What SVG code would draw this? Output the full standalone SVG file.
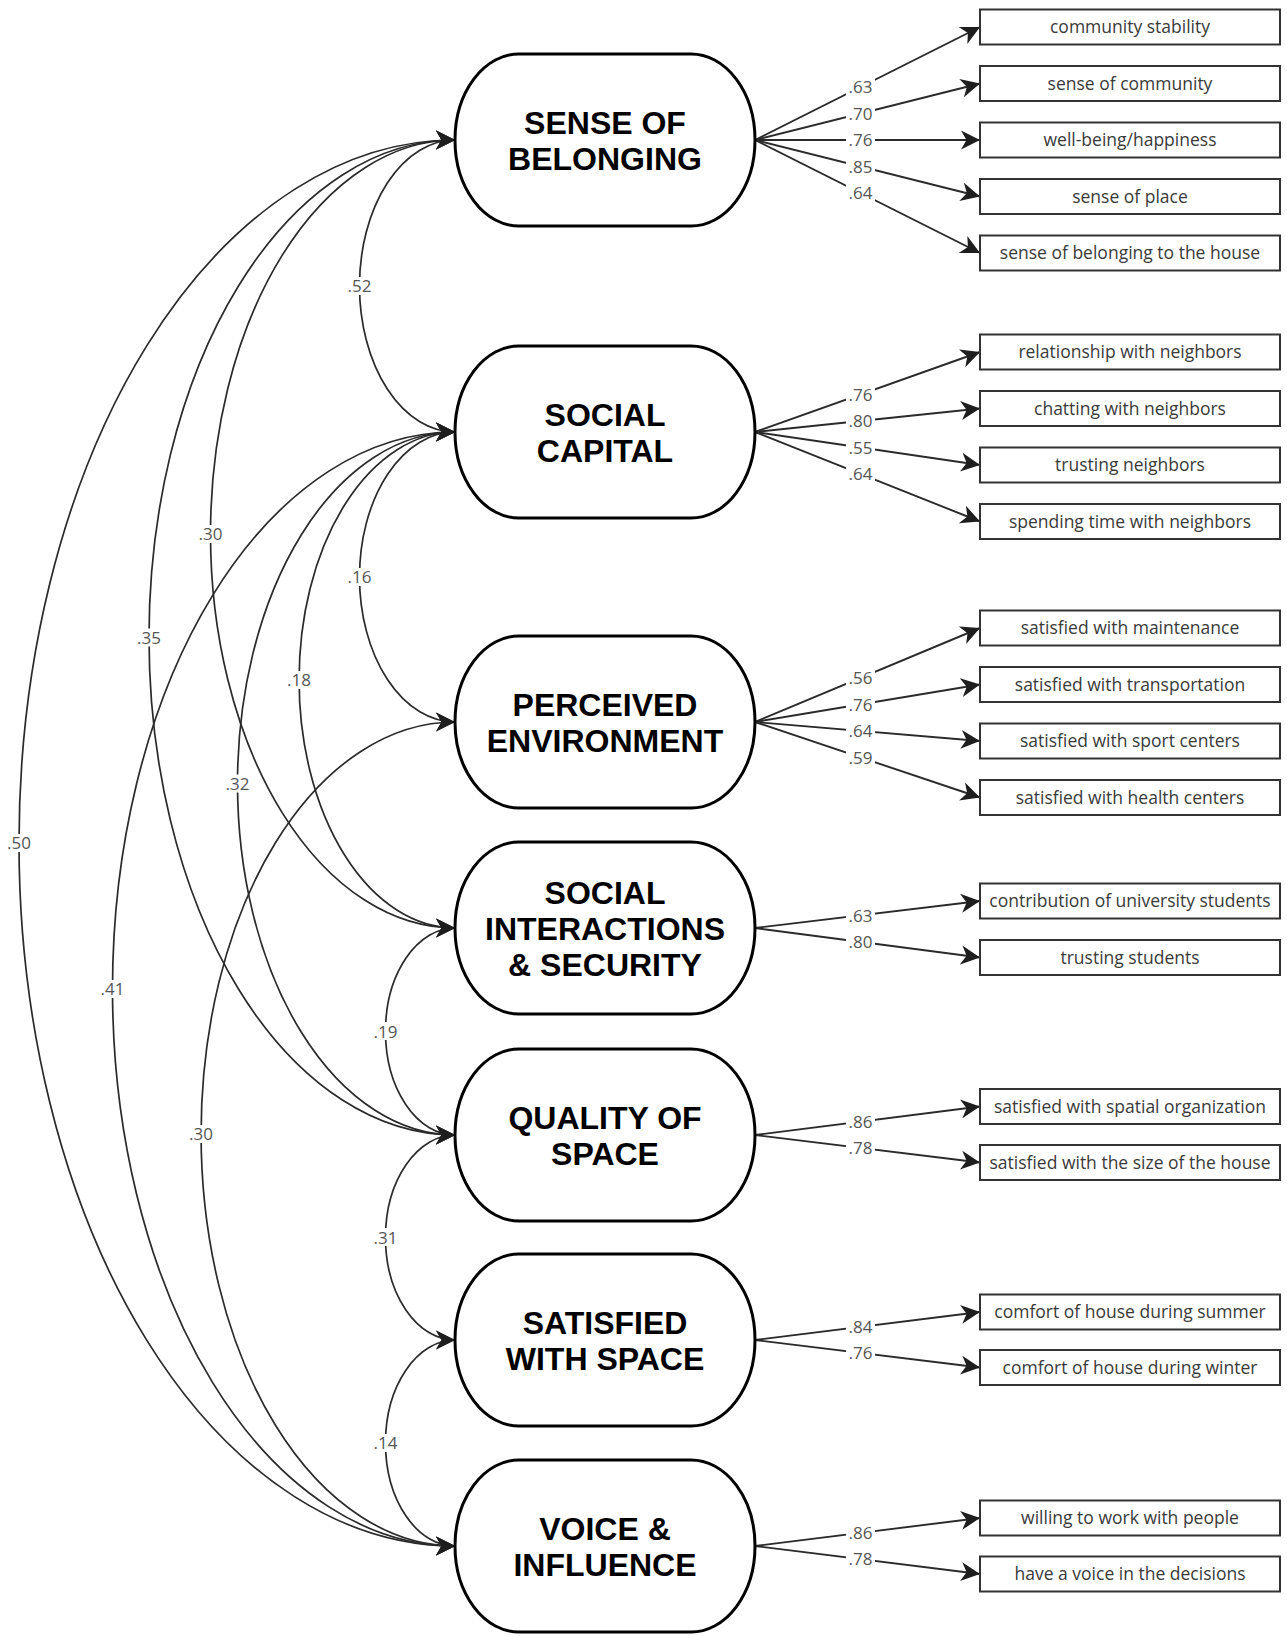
<svg xmlns="http://www.w3.org/2000/svg" width="1287" height="1636" viewBox="0 0 1287 1636">
<defs>
<style>
.latent rect{fill:#fff;stroke:#000;stroke-width:3}
.latent text{font-family:"Liberation Sans",Arial,sans-serif;font-weight:bold;font-size:32px;text-anchor:middle;fill:#000}
.ind rect{fill:#fff;stroke:#333;stroke-width:2}
.ind text{font-family:"Open Sans",sans-serif;font-size:17.5px;text-anchor:middle;fill:#3a3a3a}
.load{stroke:#2a2a2a;stroke-width:1.9;fill:none;marker-end:url(#ah)}
.cor{stroke:#2a2a2a;stroke-width:1.7;fill:none;marker-start:url(#ah);marker-end:url(#ah)}
.lbl rect{fill:#fff}
.lbl text{font-family:"Open Sans",sans-serif;font-size:17px;fill:#555;text-anchor:middle}
</style>
<marker id="ah" viewBox="0 0 20 22" refX="19" refY="11" markerWidth="20" markerHeight="22" markerUnits="userSpaceOnUse" orient="auto-start-reverse">
<path d="M0,1.5 L19,11 L0,20.5 L5.5,11 Z" fill="#1e1e1e"/>
</marker>
</defs>
<rect width="1287" height="1636" fill="#fff"/>

<g id="connectors">
<!-- correlations -->
<path class="cor" d="M455 140 A95.5 146 0 0 0 455 432"/>
<path class="cor" d="M455 432 A95.5 145 0 0 0 455 722"/>
<path class="cor" d="M455 928 A69.5 103.5 0 0 0 455 1135"/>
<path class="cor" d="M455 1135 A69.5 102.5 0 0 0 455 1340"/>
<path class="cor" d="M455 1340 A69.5 103 0 0 0 455 1546"/>
<path class="cor" d="M455 140 A244.5 394 0 0 0 455 928"/>
<path class="cor" d="M455 140 A306 497.5 0 0 0 455 1135"/>
<path class="cor" d="M455 140 A436 703 0 0 0 455 1546"/>
<path class="cor" d="M455 432 A156 248 0 0 0 455 928"/>
<path class="cor" d="M455 432 A217.5 351.5 0 0 0 455 1135"/>
<path class="cor" d="M455 432 A342.5 557 0 0 0 455 1546"/>
<path class="cor" d="M455 722 A254 412 0 0 0 455 1546"/>
<!-- loadings -->
<path class="load" d="M755 140 L980 27"/>
<path class="load" d="M755 140 L980 83.5"/>
<path class="load" d="M755 140 L980 140"/>
<path class="load" d="M755 140 L980 196.5"/>
<path class="load" d="M755 140 L980 253"/>
<path class="load" d="M755 432 L980 352"/>
<path class="load" d="M755 432 L980 408.5"/>
<path class="load" d="M755 432 L980 465"/>
<path class="load" d="M755 432 L980 521.5"/>
<path class="load" d="M755 722 L980 628"/>
<path class="load" d="M755 722 L980 684.5"/>
<path class="load" d="M755 722 L980 741"/>
<path class="load" d="M755 722 L980 797.5"/>
<path class="load" d="M755 928 L980 901"/>
<path class="load" d="M755 928 L980 957.5"/>
<path class="load" d="M755 1135 L980 1106.5"/>
<path class="load" d="M755 1135 L980 1162.5"/>
<path class="load" d="M755 1340 L980 1312"/>
<path class="load" d="M755 1340 L980 1367.5"/>
<path class="load" d="M755 1546 L980 1518"/>
<path class="load" d="M755 1546 L980 1574"/>
</g>

<g id="connector-labels" class="lbl">
<rect x="345" y="277" width="29" height="18"/><text x="359.5" y="292">.52</text>
<rect x="345" y="568" width="29" height="18"/><text x="359.5" y="583">.16</text>
<rect x="371" y="1022" width="29" height="18"/><text x="385.5" y="1037.5">.19</text>
<rect x="371" y="1228" width="29" height="18"/><text x="385.5" y="1243.5">.31</text>
<rect x="371" y="1434" width="29" height="18"/><text x="385.5" y="1449">.14</text>
<rect x="196" y="525" width="29" height="18"/><text x="210.5" y="540">.30</text>
<rect x="134.5" y="628.5" width="29" height="18"/><text x="149" y="643.5">.35</text>
<rect x="4.5" y="834" width="29" height="18"/><text x="19" y="849">.50</text>
<rect x="284.5" y="671" width="29" height="18"/><text x="299" y="686">.18</text>
<rect x="223" y="774.5" width="29" height="18"/><text x="237.5" y="789.5">.32</text>
<rect x="98" y="980" width="29" height="18"/><text x="112.5" y="995">.41</text>
<rect x="186.5" y="1125" width="29" height="18"/><text x="201" y="1140">.30</text>

<rect x="846" y="78" width="29" height="18"/><text x="860.5" y="93">.63</text>
<rect x="846" y="104.5" width="29" height="18"/><text x="860.5" y="119.5">.70</text>
<rect x="846" y="131" width="29" height="18"/><text x="860.5" y="146">.76</text>
<rect x="846" y="157.5" width="29" height="18"/><text x="860.5" y="172.5">.85</text>
<rect x="846" y="184" width="29" height="18"/><text x="860.5" y="199">.64</text>
<rect x="846" y="385.5" width="29" height="18"/><text x="860.5" y="400.5">.76</text>
<rect x="846" y="412" width="29" height="18"/><text x="860.5" y="427">.80</text>
<rect x="846" y="438.5" width="29" height="18"/><text x="860.5" y="453.5">.55</text>
<rect x="846" y="465" width="29" height="18"/><text x="860.5" y="480">.64</text>
<rect x="846" y="669" width="29" height="18"/><text x="860.5" y="684">.56</text>
<rect x="846" y="695.5" width="29" height="18"/><text x="860.5" y="710.5">.76</text>
<rect x="846" y="722" width="29" height="18"/><text x="860.5" y="737">.64</text>
<rect x="846" y="748.5" width="29" height="18"/><text x="860.5" y="763.5">.59</text>
<rect x="846" y="906.5" width="29" height="18"/><text x="860.5" y="921.5">.63</text>
<rect x="846" y="933" width="29" height="18"/><text x="860.5" y="948">.80</text>
<rect x="846" y="1112.5" width="29" height="18"/><text x="860.5" y="1127.5">.86</text>
<rect x="846" y="1139" width="29" height="18"/><text x="860.5" y="1154">.78</text>
<rect x="846" y="1318" width="29" height="18"/><text x="860.5" y="1333">.84</text>
<rect x="846" y="1344" width="29" height="18"/><text x="860.5" y="1359">.76</text>
<rect x="846" y="1524" width="29" height="18"/><text x="860.5" y="1539">.86</text>
<rect x="846" y="1550" width="29" height="18"/><text x="860.5" y="1565">.78</text>
</g>

<g id="node-sense-of-belonging" class="latent"><rect x="455" y="54" width="300" height="172" rx="64" ry="86"/><text x="605" y="134">SENSE OF</text><text x="605" y="170">BELONGING</text></g>
<g id="node-social-capital" class="latent"><rect x="455" y="346" width="300" height="172" rx="64" ry="86"/><text x="605" y="426">SOCIAL</text><text x="605" y="462">CAPITAL</text></g>
<g id="node-perceived-environment" class="latent"><rect x="455" y="636" width="300" height="172" rx="64" ry="86"/><text x="605" y="716">PERCEIVED</text><text x="605" y="752">ENVIRONMENT</text></g>
<g id="node-social-interactions" class="latent"><rect x="455" y="842" width="300" height="172" rx="64" ry="86"/><text x="605" y="904">SOCIAL</text><text x="605" y="940">INTERACTIONS</text><text x="605" y="976">&amp; SECURITY</text></g>
<g id="node-quality-of-space" class="latent"><rect x="455" y="1049" width="300" height="172" rx="64" ry="86"/><text x="605" y="1129">QUALITY OF</text><text x="605" y="1165">SPACE</text></g>
<g id="node-satisfied-with-space" class="latent"><rect x="455" y="1254" width="300" height="172" rx="64" ry="86"/><text x="605" y="1334">SATISFIED</text><text x="605" y="1370">WITH SPACE</text></g>
<g id="node-voice-influence" class="latent"><rect x="455" y="1460" width="300" height="172" rx="64" ry="86"/><text x="605" y="1540">VOICE &amp;</text><text x="605" y="1576">INFLUENCE</text></g>

<g id="ind-community-stability" class="ind"><rect x="980" y="9.5" width="300" height="35"/><text x="1130" y="33">community stability</text></g>
<g id="ind-sense-of-community" class="ind"><rect x="980" y="66" width="300" height="35"/><text x="1130" y="89.5">sense of community</text></g>
<g id="ind-well-being" class="ind"><rect x="980" y="122.5" width="300" height="35"/><text x="1130" y="146">well-being/happiness</text></g>
<g id="ind-sense-of-place" class="ind"><rect x="980" y="179" width="300" height="35"/><text x="1130" y="202.5">sense of place</text></g>
<g id="ind-belonging-house" class="ind"><rect x="980" y="235.5" width="300" height="35"/><text x="1130" y="259">sense of belonging to the house</text></g>

<g id="ind-relationship" class="ind"><rect x="980" y="334.5" width="300" height="35"/><text x="1130" y="358">relationship with neighbors</text></g>
<g id="ind-chatting" class="ind"><rect x="980" y="391" width="300" height="35"/><text x="1130" y="414.5">chatting with neighbors</text></g>
<g id="ind-trusting-neighbors" class="ind"><rect x="980" y="447.5" width="300" height="35"/><text x="1130" y="471">trusting neighbors</text></g>
<g id="ind-spending-time" class="ind"><rect x="980" y="504" width="300" height="35"/><text x="1130" y="527.5">spending time with neighbors</text></g>

<g id="ind-maintenance" class="ind"><rect x="980" y="610.5" width="300" height="35"/><text x="1130" y="634">satisfied with maintenance</text></g>
<g id="ind-transportation" class="ind"><rect x="980" y="667" width="300" height="35"/><text x="1130" y="690.5">satisfied with transportation</text></g>
<g id="ind-sport-centers" class="ind"><rect x="980" y="723.5" width="300" height="35"/><text x="1130" y="747">satisfied with sport centers</text></g>
<g id="ind-health-centers" class="ind"><rect x="980" y="780" width="300" height="35"/><text x="1130" y="803.5">satisfied with health centers</text></g>

<g id="ind-university-students" class="ind"><rect x="980" y="883.5" width="300" height="35"/><text x="1130" y="907">contribution of university students</text></g>
<g id="ind-trusting-students" class="ind"><rect x="980" y="940" width="300" height="35"/><text x="1130" y="963.5">trusting students</text></g>

<g id="ind-spatial-organization" class="ind"><rect x="980" y="1089" width="300" height="35"/><text x="1130" y="1112.5">satisfied with spatial organization</text></g>
<g id="ind-size-of-house" class="ind"><rect x="980" y="1145" width="300" height="35"/><text x="1130" y="1168.5">satisfied with the size of the house</text></g>

<g id="ind-summer" class="ind"><rect x="980" y="1294.5" width="300" height="35"/><text x="1130" y="1318">comfort of house during summer</text></g>
<g id="ind-winter" class="ind"><rect x="980" y="1350" width="300" height="35"/><text x="1130" y="1373.5">comfort of house during winter</text></g>

<g id="ind-work-with-people" class="ind"><rect x="980" y="1500.5" width="300" height="35"/><text x="1130" y="1524">willing to work with people</text></g>
<g id="ind-voice-decisions" class="ind"><rect x="980" y="1556.5" width="300" height="35"/><text x="1130" y="1580">have a voice in the decisions</text></g>
</svg>
